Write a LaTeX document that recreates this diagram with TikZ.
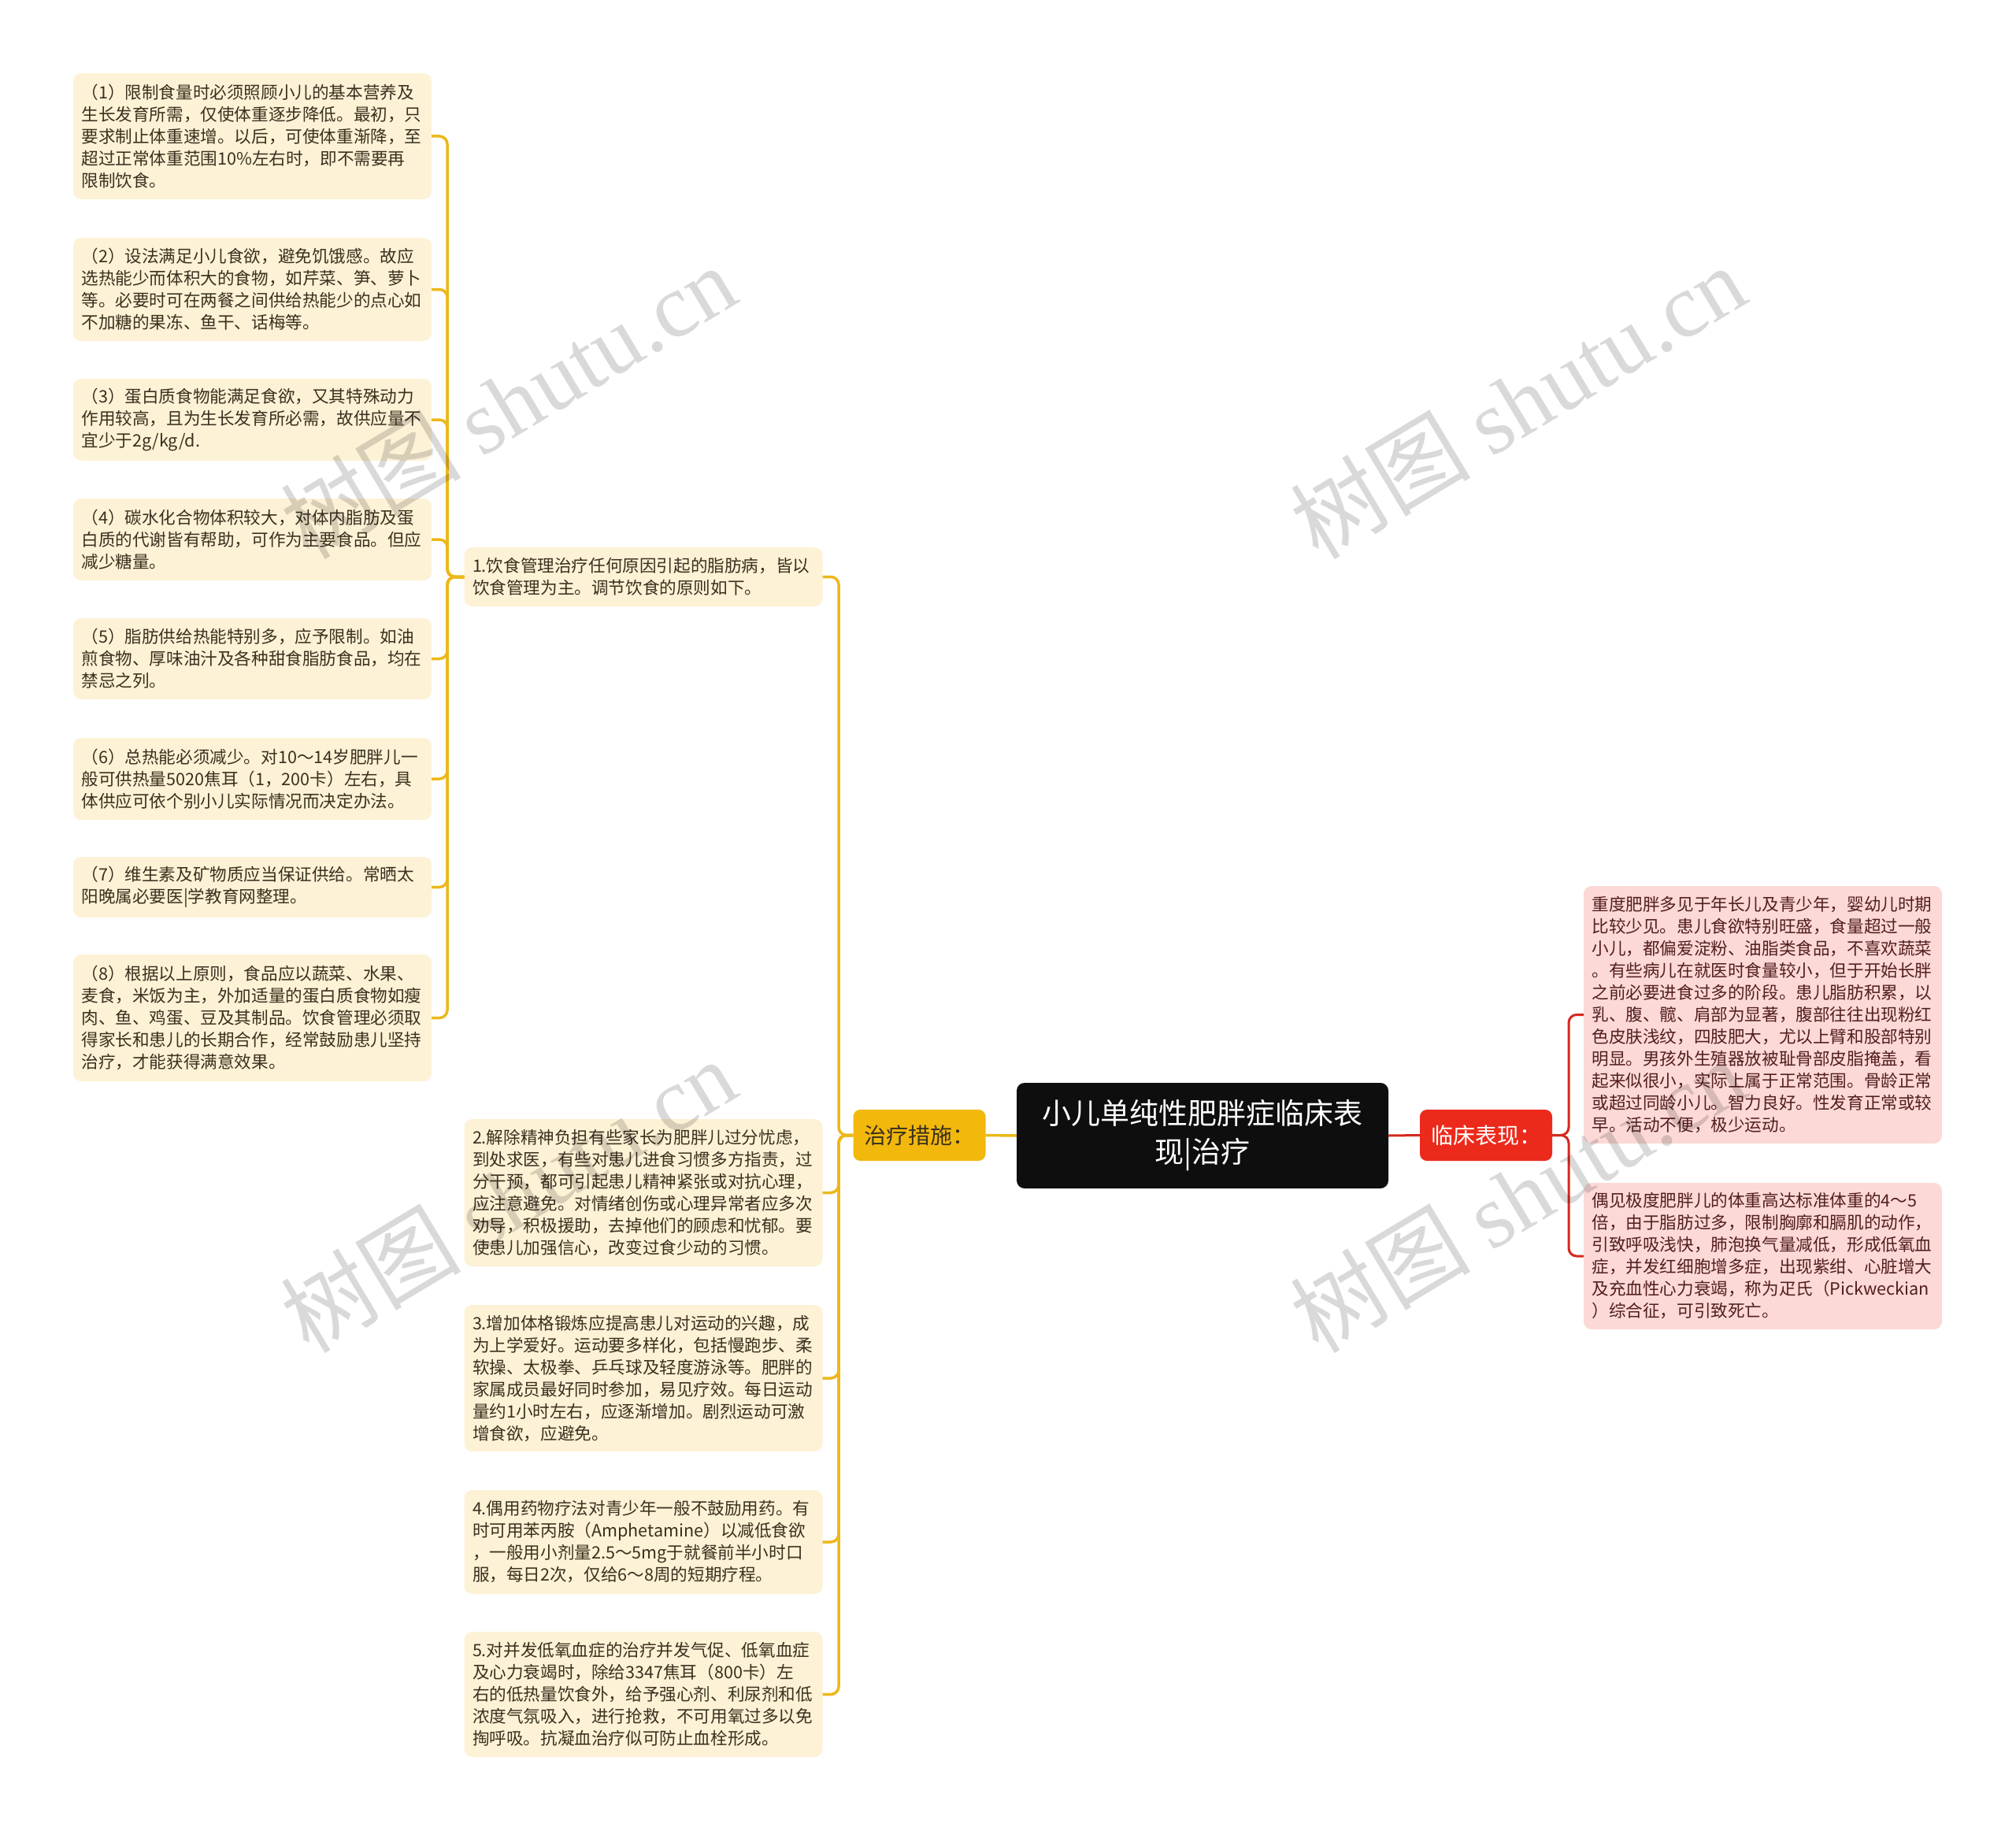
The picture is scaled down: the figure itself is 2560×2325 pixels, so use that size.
\documentclass[tikz,border=0pt]{standalone}
\usepackage{fontspec}
\newfontfamily\cjk{Noto Sans CJK SC}
\newfontfamily\wmserif{Liberation Serif}
\definecolor{ylw}{RGB}{236,184,26}
\definecolor{cream}{RGB}{253,242,214}
\definecolor{pinkbox}{RGB}{252,217,214}
\definecolor{redbox}{RGB}{236,42,28}
\definecolor{redline}{RGB}{214,40,30}
\definecolor{leaftxt}{RGB}{58,48,30}
\definecolor{pinktxt}{RGB}{82,30,30}
\definecolor{goldbox}{RGB}{242,184,12}
\definecolor{darkbox}{RGB}{14,14,14}
\begin{document}
\begin{tikzpicture}[x=1pt,y=-1pt,
  leaf/.style={rectangle, rounded corners=10pt, fill=cream, text=leaftxt,
    font={\cjk\fontsize{21.6}{28}\selectfont}, align=left, text width=434pt,
    inner xsep=10pt, inner ysep=0pt, minimum width=455pt},
  pleaf/.style={leaf, fill=pinkbox, text=pinktxt},
  topicbox/.style={rectangle, rounded corners=9pt, inner sep=0pt,
    font={\cjk\fontsize{28}{34}\selectfont}, minimum width=168pt, minimum height=65pt},
  rootbox/.style={rectangle, rounded corners=10pt, fill=darkbox, text=white, inner sep=0pt,
    font={\cjk\fontsize{37}{49}\selectfont}, align=center, minimum width=472pt, minimum height=134pt},
  yline/.style={draw=ylw, line width=3.5pt, rounded corners=10pt},
  rline/.style={draw=redline, line width=3pt, rounded corners=10pt},
  wmark/.style={text=black, opacity=0.15, rotate=31, inner sep=0pt}
]
\useasboundingbox (0,0) rectangle (2560,2325);
\fill[white] (0,0) rectangle (2560,2325);

% root and topics
\node[rootbox] (root) at (1527,1442) {小儿单纯性肥胖症临床表\\现|治疗};
\node[topicbox, fill=goldbox, text=leaftxt] (zl) at (1167.5,1441.5) {治疗措施：};
\node[topicbox, fill=redbox, text=white] (lc) at (1887,1441.5) {临床表现：};

% middle column
\node[leaf, minimum height=75pt] (M1) at (817,732.5) {1.饮食管理治疗任何原因引起的脂肪病，皆以\\饮食管理为主。调节饮食的原则如下。};
\node[leaf, minimum height=187pt] (M2) at (817,1514.5) {2.解除精神负担有些家长为肥胖儿过分忧虑，\\到处求医，有些对患儿进食习惯多方指责，过\\分干预，都可引起患儿精神紧张或对抗心理，\\应注意避免。对情绪创伤或心理异常者应多次\\劝导，积极援助，去掉他们的顾虑和忧郁。要\\使患儿加强信心，改变过食少动的习惯。};
\node[leaf, minimum height=186pt] (M3) at (817,1750) {3.增加体格锻炼应提高患儿对运动的兴趣，成\\为上学爱好。运动要多样化，包括慢跑步、柔\\软操、太极拳、乒乓球及轻度游泳等。肥胖的\\家属成员最好同时参加，易见疗效。每日运动\\量约1小时左右，应逐渐增加。剧烈运动可激\\增食欲，应避免。};
\node[leaf, minimum height=132pt] (M4) at (817,1958) {4.偶用药物疗法对青少年一般不鼓励用药。有\\时可用苯丙胺（Amphetamine）以减低食欲\\，一般用小剂量2.5～5mg于就餐前半小时口\\服，每日2次，仅给6～8周的短期疗程。};
\node[leaf, minimum height=159pt] (M5) at (817,2151.5) {5.对并发低氧血症的治疗并发气促、低氧血症\\及心力衰竭时，除给3347焦耳（800卡）左\\右的低热量饮食外，给予强心剂、利尿剂和低\\浓度气氛吸入，进行抢救，不可用氧过多以免\\掏呼吸。抗凝血治疗似可防止血栓形成。};

% left column
\node[leaf, minimum height=160pt] (L1) at (320.5,173) {（1）限制食量时必须照顾小儿的基本营养及\\生长发育所需，仅使体重逐步降低。最初，只\\要求制止体重速增。以后，可使体重渐降，至\\超过正常体重范围10\%左右时，即不需要再\\限制饮食。};
\node[leaf, minimum height=131pt] (L2) at (320.5,367.5) {（2）设法满足小儿食欲，避免饥饿感。故应\\选热能少而体积大的食物，如芹菜、笋、萝卜\\等。必要时可在两餐之间供给热能少的点心如\\不加糖的果冻、鱼干、话梅等。};
\node[leaf, minimum height=104pt] (L3) at (320.5,533) {（3）蛋白质食物能满足食欲，又其特殊动力\\作用较高，且为生长发育所必需，故供应量不\\宜少于2g/kg/d.};
\node[leaf, minimum height=104pt] (L4) at (320.5,685) {（4）碳水化合物体积较大，对体内脂肪及蛋\\白质的代谢皆有帮助，可作为主要食品。但应\\减少糖量。};
\node[leaf, minimum height=103pt] (L5) at (320.5,836.5) {（5）脂肪供给热能特别多，应予限制。如油\\煎食物、厚味油汁及各种甜食脂肪食品，均在\\禁忌之列。};
\node[leaf, minimum height=104pt] (L6) at (320.5,989) {（6）总热能必须减少。对10～14岁肥胖儿一\\般可供热量5020焦耳（1，200卡）左右，具\\体供应可依个别小儿实际情况而决定办法。};
\node[leaf, minimum height=77pt] (L7) at (320.5,1126.5) {（7）维生素及矿物质应当保证供给。常晒太\\阳晚属必要医|学教育网整理。};
\node[leaf, minimum height=161pt] (L8) at (320.5,1292.5) {（8）根据以上原则，食品应以蔬菜、水果、\\麦食，米饭为主，外加适量的蛋白质食物如瘦\\肉、鱼、鸡蛋、豆及其制品。饮食管理必须取\\得家长和患儿的长期合作，经常鼓励患儿坚持\\治疗，才能获得满意效果。};

% right column
\node[pleaf, minimum height=327pt] (R1) at (2238.5,1288.5) {重度肥胖多见于年长儿及青少年，婴幼儿时期\\比较少见。患儿食欲特别旺盛，食量超过一般\\小儿，都偏爱淀粉、油脂类食品，不喜欢蔬菜\\。有些病儿在就医时食量较小，但于开始长胖\\之前必要进食过多的阶段。患儿脂肪积累，以\\乳、腹、髋、肩部为显著，腹部往往出现粉红\\色皮肤浅纹，四肢肥大，尤以上臂和股部特别\\明显。男孩外生殖器放被耻骨部皮脂掩盖，看\\起来似很小，实际上属于正常范围。骨龄正常\\或超过同龄小儿。智力良好。性发育正常或较\\早。活动不便，极少运动。};
\node[pleaf, minimum height=186pt] (R2) at (2238.5,1595) {偶见极度肥胖儿的体重高达标准体重的4～5\\倍，由于脂肪过多，限制胸廓和膈肌的动作，\\引致呼吸浅快，肺泡换气量减低，形成低氧血\\症，并发红细胞增多症，出现紫绀、心脏增大\\及充血性心力衰竭，称为疋氏（Pickweckian\\）综合征，可引致死亡。};

% connectors
\coordinate (xm) at (1065,0);
\coordinate (xl) at (568,0);
\coordinate (xr) at (1992,0);
\draw[yline] (root.west) -- (zl.east);
\draw[rline] (root.east) -- (lc.west);
\foreach \n in {M1,M2,M3,M4,M5} {\draw[yline] (zl.west) -| (xm |- \n.east) -- (\n.east);}
\foreach \n in {L1,L2,L3,L4,L5,L6,L7,L8} {\draw[yline] (M1.west) -| (xl |- \n.east) -- (\n.east);}
\foreach \n in {R1,R2} {\draw[rline] (lc.east) -| (xr |- \n.west) -- (\n.west);}

% watermarks
\foreach \p [count=\i] in {(645,510),(1927,510),(645,1518),(1927,1518)} {
  \node[wmark] (wm\i) at \p {\cjk\fontsize{115}{120}\selectfont 树图 \wmserif shutu.cn};
}
\end{tikzpicture}
\end{document}
